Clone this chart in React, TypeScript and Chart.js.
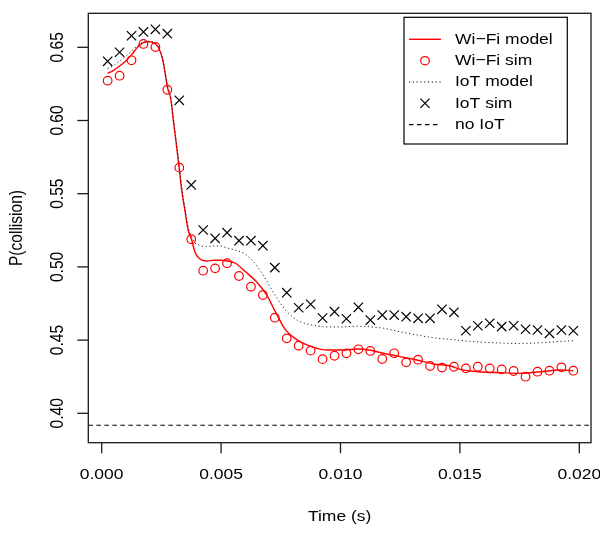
import React, { useEffect, useRef } from "react";
import { Chart, registerables } from "chart.js";

Chart.register(...registerables);

// ---- data ----
const simTime = [
  0.00025, 0.00075, 0.00125, 0.00175, 0.00225, 0.00275, 0.00325, 0.00375, 0.00425, 0.00475,
  0.00525, 0.00575, 0.00625, 0.00675, 0.00725, 0.00775, 0.00825, 0.00875, 0.00925, 0.00975,
  0.01025, 0.01075, 0.01125, 0.01175, 0.01225, 0.01275, 0.01325, 0.01375, 0.01425, 0.01475,
  0.01525, 0.01575, 0.01625, 0.01675, 0.01725, 0.01775, 0.01825, 0.01875, 0.01925, 0.01975,
];
const wifiSim = [
  0.6272, 0.6306, 0.6411, 0.6523, 0.6502, 0.621, 0.5678, 0.5189, 0.4974, 0.499,
  0.5025, 0.4938, 0.4865, 0.4808, 0.4653, 0.4512, 0.4462, 0.4428, 0.437, 0.4393,
  0.441, 0.4437, 0.4426, 0.4371, 0.441, 0.4348, 0.4366, 0.4323, 0.4312, 0.4318,
  0.4307, 0.4318, 0.4307, 0.43, 0.4289, 0.425, 0.4284, 0.4291, 0.4314, 0.4291,
];
const iotSim = [
  0.6404, 0.6466, 0.6579, 0.6605, 0.6623, 0.6593, 0.6138, 0.556, 0.5252, 0.5195,
  0.5234, 0.5179, 0.5179, 0.5145, 0.4995, 0.4824, 0.4721, 0.4745, 0.4651, 0.4694,
  0.4646, 0.4724, 0.4637, 0.4671, 0.4671, 0.466, 0.4649, 0.4649, 0.471, 0.469,
  0.4564, 0.4598, 0.4615, 0.4592, 0.4598, 0.4574, 0.4569, 0.4546, 0.4569, 0.4564,
];
const modelTime = [
  0.00025, 0.0005, 0.00075, 0.001, 0.00125, 0.0015, 0.00175, 0.002, 0.00225, 0.0024,
  0.00255, 0.00265, 0.00275, 0.0029, 0.003, 0.00315, 0.00325, 0.00335, 0.0035, 0.00362,
  0.00377, 0.0039, 0.0041, 0.0044, 0.0047, 0.005, 0.0052, 0.0056, 0.006, 0.0065,
  0.0069, 0.0073, 0.0077, 0.0082, 0.0086, 0.009, 0.0094, 0.0101, 0.0107, 0.0112,
  0.0118, 0.0125, 0.0132, 0.0139, 0.0146, 0.015, 0.0158, 0.0167, 0.0175, 0.0184,
  0.0192, 0.01975,
];
const wifiModel = [
  0.6322, 0.6343, 0.6372, 0.6405, 0.6448, 0.65, 0.6532, 0.6538, 0.6522, 0.649,
  0.642, 0.633, 0.623, 0.614, 0.6003, 0.5805, 0.567, 0.5526, 0.537, 0.5252,
  0.5184, 0.5104, 0.5055, 0.504, 0.5045, 0.5045, 0.5042, 0.5025, 0.497, 0.4895,
  0.481, 0.4685, 0.457, 0.45, 0.4467, 0.4444, 0.4432, 0.4432, 0.4439, 0.4432,
  0.441, 0.4387, 0.4364, 0.4337, 0.4323, 0.43, 0.4284, 0.4277, 0.4273, 0.4284,
  0.4296, 0.4291,
];
const iotModel = [
  0.6355, 0.6375, 0.6405, 0.6437, 0.6472, 0.6512, 0.6536, 0.6542, 0.6526, 0.6495,
  0.6425, 0.634, 0.6245, 0.6155, 0.602, 0.5825, 0.569, 0.5545, 0.539, 0.5275,
  0.5205, 0.5165, 0.5148, 0.5138, 0.5143, 0.5143, 0.5132, 0.5115, 0.5088, 0.5007,
  0.4906, 0.4797, 0.4705, 0.4635, 0.461, 0.4598, 0.459, 0.459, 0.4595, 0.4591,
  0.4581, 0.4557, 0.4535, 0.4516, 0.4505, 0.4498, 0.4487, 0.448, 0.4477, 0.4482,
  0.4491, 0.4496,
];
const noIoT = 0.3918;

const xTicks = [0.0, 0.005, 0.01, 0.015, 0.02];
const xTickLabels = ["0.000", "0.005", "0.010", "0.015", "0.020"];
const yTicks = [0.4, 0.45, 0.5, 0.55, 0.6, 0.65];
const yTickLabels = ["0.40", "0.45", "0.50", "0.55", "0.60", "0.65"];
const xTitle = "Time (s)";
const yTitle = "P(collision)";
const legendLabels = ["Wi\u2212Fi model", "Wi\u2212Fi sim", "IoT model", "IoT sim", "no IoT"];

const X_MIN = -0.00056;
const X_MAX = 0.02049;
const Y_MIN = 0.37992;
const Y_MAX = 0.67322;

const FONT = '14px "Liberation Sans", Arial, Helvetica, sans-serif';
const SX = 1.25;
const SY = 1.11;
const RED = "#ff0000";
const INK = "#000000";

function txt(ctx: CanvasRenderingContext2D, s: string, x: number, y: number, align: CanvasTextAlign, rot = false) {
  ctx.save();
  ctx.translate(x, y);
  ctx.scale(SX, SY);
  if (rot) ctx.rotate(-Math.PI / 2);
  ctx.font = FONT;
  ctx.fillStyle = INK;
  ctx.textAlign = align;
  ctx.textBaseline = "middle";
  ctx.fillText(s, 0, 0);
  ctx.restore();
}

const axesPlugin = {
  id: "rAxes",
  afterDraw(chart: any) {
    const ctx: CanvasRenderingContext2D = chart.ctx;
    const a = chart.chartArea;
    const xs = chart.scales.x;
    const ys = chart.scales.y;
    ctx.save();
    ctx.strokeStyle = "#1a1a1a";
    ctx.lineWidth = 1.3;
    ctx.strokeRect(a.left, a.top, a.right - a.left, a.bottom - a.top);
    // x ticks
    xTicks.forEach((v, i) => {
      const px = xs.getPixelForValue(v);
      ctx.beginPath();
      ctx.moveTo(px, a.bottom);
      ctx.lineTo(px, a.bottom + 10.5);
      ctx.stroke();
      txt(ctx, xTickLabels[i], px, a.bottom + 32, "center");
    });
    yTicks.forEach((v, i) => {
      const py = ys.getPixelForValue(v);
      ctx.beginPath();
      ctx.moveTo(a.left, py);
      ctx.lineTo(a.left - 11, py);
      ctx.stroke();
      txt(ctx, yTickLabels[i], a.left - 30, py, "center", true);
    });
    txt(ctx, xTitle, (a.left + a.right) / 2, a.bottom + 74.5, "center");
    txt(ctx, yTitle, 17, (a.top + a.bottom) / 2, "center", true);

    // legend
    const lx = 404, ly = 17.3, lw = 163.3, lh = 126.7;
    ctx.lineWidth = 1.2;
    ctx.strokeStyle = INK;
    ctx.strokeRect(lx, ly, lw, lh);
    const rows = [39.3, 60.7, 82, 103.3, 124.7];
    const sx0 = 409, sx1 = 441, sc = 425;
    // Wi-Fi model
    ctx.strokeStyle = RED;
    ctx.lineWidth = 1.4;
    ctx.beginPath(); ctx.moveTo(sx0, rows[0]); ctx.lineTo(sx1, rows[0]); ctx.stroke();
    // Wi-Fi sim
    ctx.lineWidth = 1.2;
    ctx.beginPath(); ctx.ellipse(sc, rows[1], 4.3, 4.1, 0, 0, Math.PI * 2); ctx.stroke();
    // IoT model
    ctx.strokeStyle = INK;
    ctx.lineWidth = 1;
    ctx.setLineDash([1.2, 2.6]);
    ctx.beginPath(); ctx.moveTo(sx0, rows[2]); ctx.lineTo(sx1, rows[2]); ctx.stroke();
    ctx.setLineDash([]);
    // IoT sim
    ctx.lineWidth = 1.2;
    const d = 4.6;
    ctx.beginPath();
    ctx.moveTo(sc - d, rows[3] - d); ctx.lineTo(sc + d, rows[3] + d);
    ctx.moveTo(sc - d, rows[3] + d); ctx.lineTo(sc + d, rows[3] - d);
    ctx.stroke();
    // no IoT
    ctx.setLineDash([4.5, 3.5]);
    ctx.beginPath(); ctx.moveTo(sx0, rows[4]); ctx.lineTo(sx1, rows[4]); ctx.stroke();
    ctx.setLineDash([]);
    legendLabels.forEach((s, i) => txt(ctx, s, 455, rows[i], "left"));
    ctx.restore();
  },
};

export default function App() {
  const ref = useRef<HTMLCanvasElement | null>(null);
  useEffect(() => {
    if (!ref.current) return;
    const pts = (xs: number[], ys: number[]) => xs.map((x, i) => ({ x, y: ys[i] }));
    const chart = new Chart(ref.current, {
      type: "scatter",
      data: {
        datasets: [
          {
            label: "no IoT",
            data: [{ x: X_MIN, y: noIoT }, { x: X_MAX, y: noIoT }],
            showLine: true,
            borderColor: INK,
            borderWidth: 1.1,
            borderDash: [4.5, 3.5],
            pointRadius: 0,
          },
          {
            label: "IoT sim",
            data: pts(simTime, iotSim),
            showLine: false,
            pointStyle: "crossRot",
            pointRadius: 6.6,
            borderColor: INK,
            borderWidth: 1.2,
          },
          {
            label: "Wi-Fi sim",
            data: pts(simTime, wifiSim),
            showLine: false,
            pointStyle: "circle",
            pointRadius: 4.3,
            borderColor: RED,
            backgroundColor: "rgba(0,0,0,0)",
            borderWidth: 1.2,
          },
          {
            label: "IoT model",
            data: pts(modelTime, iotModel),
            showLine: true,
            borderColor: "#222",
            borderWidth: 1,
            borderDash: [1.2, 2.6],
            pointRadius: 0,
            cubicInterpolationMode: "monotone",
          },
          {
            label: "Wi-Fi model",
            data: pts(modelTime, wifiModel),
            showLine: true,
            borderColor: RED,
            borderWidth: 1.4,
            pointRadius: 0,
            cubicInterpolationMode: "monotone",
          },
        ],
      },
      options: {
        animation: false,
        responsive: false,
        events: [],
        layout: { padding: { left: 88.3, top: 13.3, right: 9, bottom: 90.3 } },
        plugins: { legend: { display: false }, tooltip: { enabled: false } },
        scales: {
          x: { type: "linear", min: X_MIN, max: X_MAX, display: false },
          y: { type: "linear", min: Y_MIN, max: Y_MAX, display: false },
        },
      },
      plugins: [axesPlugin],
    } as any);
    return () => chart.destroy();
  }, []);
  return (
    <div style={{ position: "fixed", left: 0, top: 0, width: 600, height: 533, background: "#fff" }}>
      <canvas ref={ref} width={600} height={533} style={{ display: "block" }} />
    </div>
  );
}
